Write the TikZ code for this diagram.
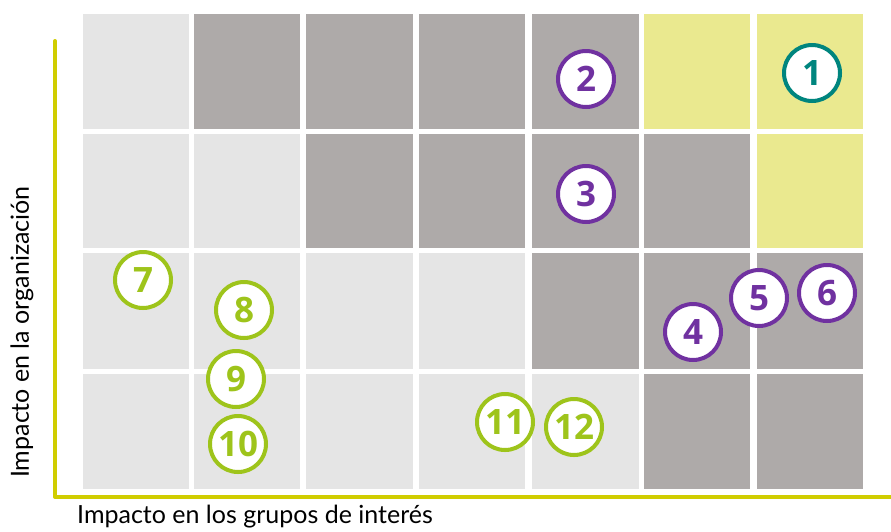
\documentclass[tikz,border=0pt]{standalone}
\usepackage{fontspec}
\setmainfont{Lato}
\newfontfamily\numfont{Open Sans}
\definecolor{lightcell}{HTML}{E5E5E5}
\definecolor{darkcell}{HTML}{AEAAA9}
\definecolor{yelcell}{HTML}{EAE98F}
\definecolor{axiscol}{HTML}{D0CD00}
\definecolor{tealc}{HTML}{00857E}
\definecolor{purplec}{HTML}{7031A0}
\definecolor{greenc}{HTML}{9EC41B}
\tikzset{
  cellL/.style={fill=lightcell},
  cellD/.style={fill=darkcell},
  cellY/.style={fill=yelcell},
  badge/.style={circle, fill=white, line width=4pt, minimum size=56pt, inner sep=0pt,
    font=\numfont\bfseries\fontsize{35}{35}\selectfont},
  bt/.style={badge, draw=tealc, text=tealc},
  bp/.style={badge, draw=purplec, text=purplec},
  bg/.style={badge, draw=greenc, text=greenc},
  axisline/.style={draw=axiscol, line width=4pt, line cap=round, line join=round},
  axlabel/.style={font=\fontsize{25}{26}\selectfont, text=black, inner sep=0pt}
}
\begin{document}
\begin{tikzpicture}[x=1pt,y=-1pt]
\useasboundingbox (0,0) rectangle (891,531);
% column and row edges
\def\cols{{83,194,306,419,532,644,757}}
\def\colsR{{189,300,413,525,639,750,863}}
\def\rows{{14,134,253,374}}
\def\rowsB{{129,248,369,489}}
\foreach \r/\pattern in {0/{L,D,D,D,D,Y,Y},1/{L,L,D,D,D,D,Y},2/{L,L,L,L,D,D,D},3/{L,L,L,L,L,D,D}}{
  \foreach \t [count=\c from 0] in \pattern {
    \pgfmathsetmacro{\xa}{\cols[\c]}
    \pgfmathsetmacro{\xb}{\colsR[\c]}
    \pgfmathsetmacro{\ya}{\rows[\r]}
    \pgfmathsetmacro{\yb}{\rowsB[\r]}
    \path[cell\t] (\xa,\ya) rectangle (\xb,\yb);
  }
}
% axes
\coordinate (ytop) at (55,41);
\coordinate (origin) at (55,497);
\coordinate (xend) at (893,497);
\draw[axisline] (ytop) -- (origin) -- (xend);
% labels
\node[axlabel, rotate=90] (ylab) at (22,332) {Impacto en la organización};
\node[axlabel] (xlab) at (255,517) {Impacto en los grupos de interés};
% badges
\node[bt] (n1) at (812,73) {1};
\node[bp] (n2) at (586,79) {2};
\node[bp] (n3) at (586,194) {3};
\node[bp] (n4) at (693,332) {4};
\node[bp] (n5) at (759,298) {5};
\node[bp] (n6) at (827,293) {6};
\node[bg] (n7) at (143,280) {7};
\node[bg] (n8) at (244,310) {8};
\node[bg] (n9) at (236,379) {9};
\node[bg] (n10) at (238,444) {10};
\node[bg] (n11) at (505,422) {11};
\node[bg] (n12) at (574,427) {12};
\end{tikzpicture}
\end{document}
